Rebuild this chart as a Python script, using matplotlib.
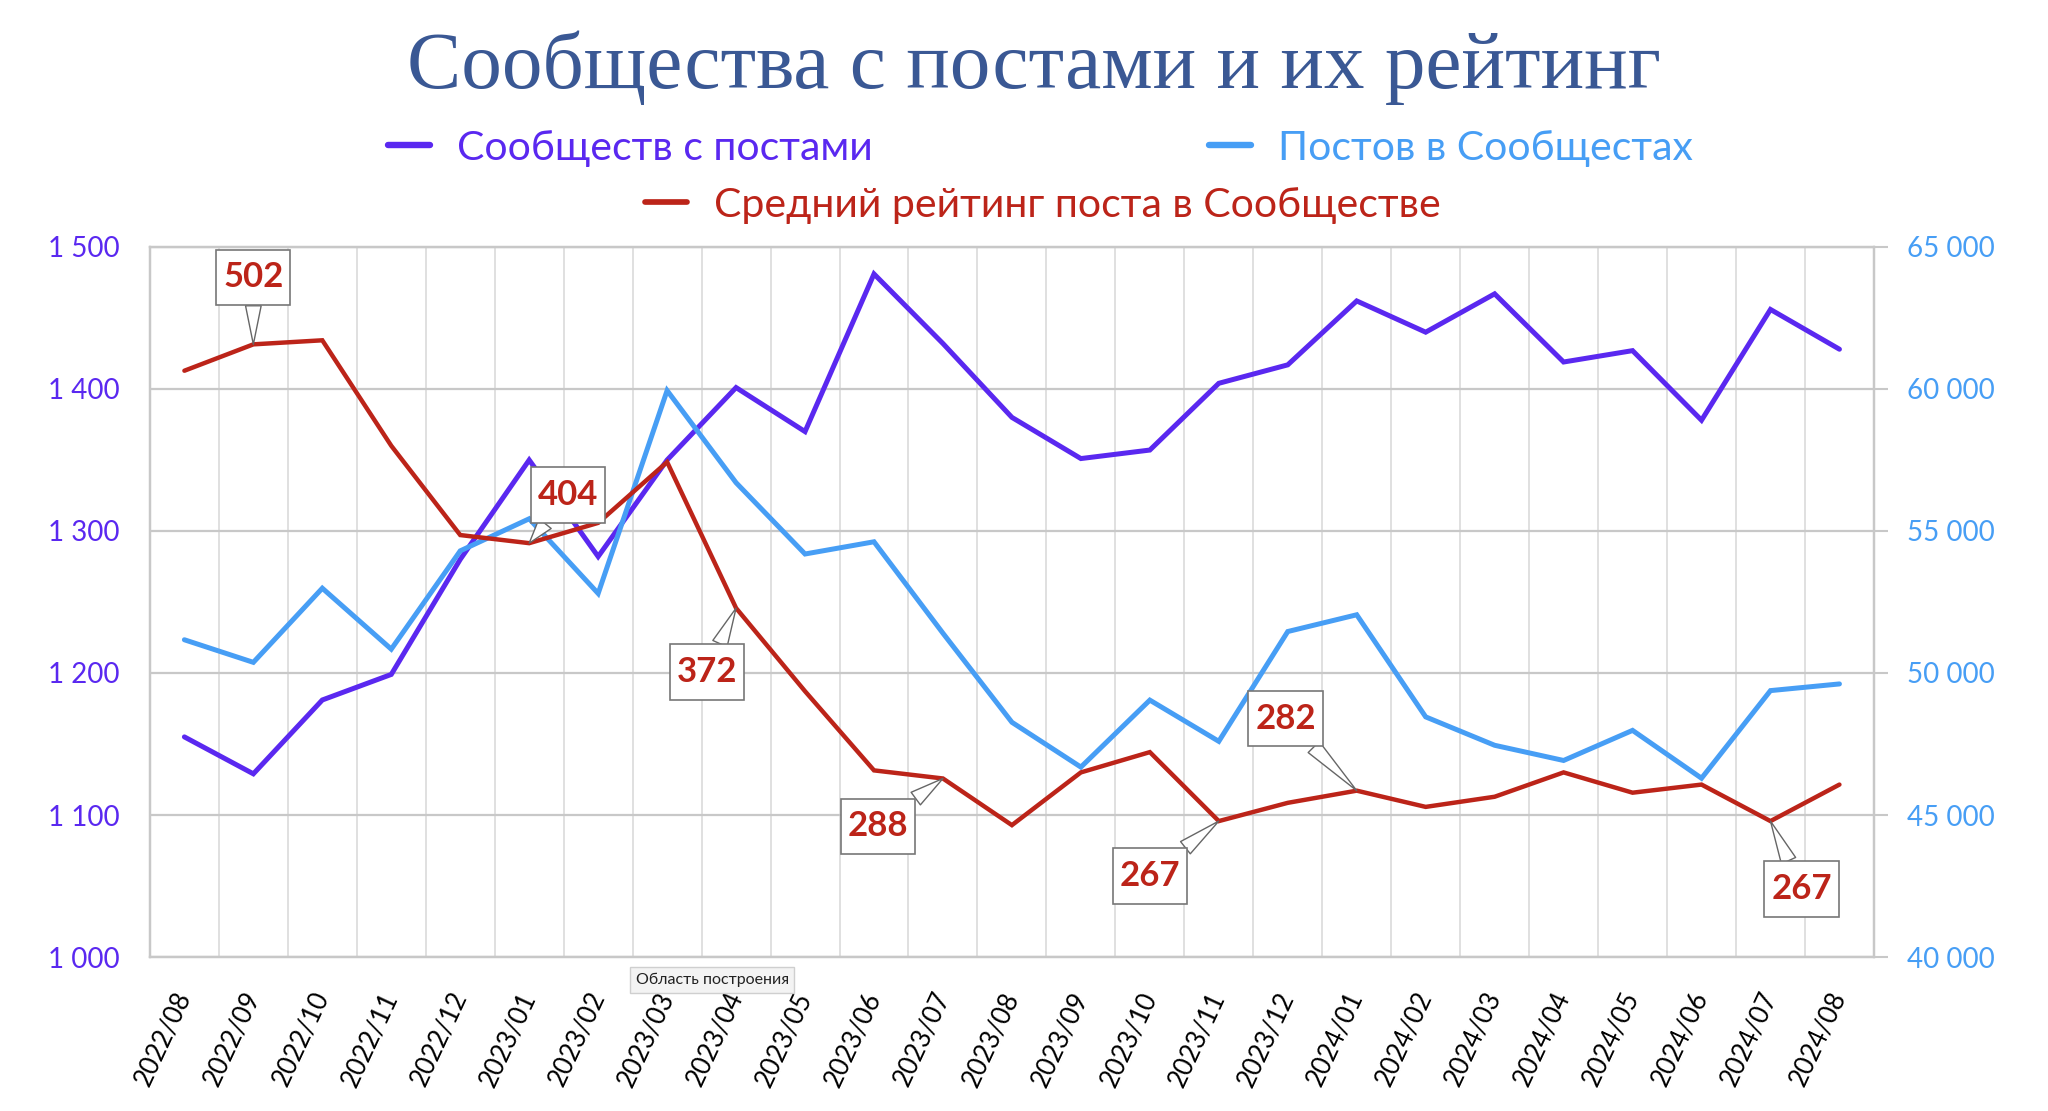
import matplotlib
matplotlib.use('Agg')
import matplotlib.pyplot as plt
import numpy as np
from matplotlib.ticker import FuncFormatter, FixedLocator
from matplotlib.lines import Line2D
from matplotlib.path import Path

# ---------------- data ----------------
months = ['2022/08', '2022/09', '2022/10', '2022/11', '2022/12',
          '2023/01', '2023/02', '2023/03', '2023/04', '2023/05', '2023/06',
          '2023/07', '2023/08', '2023/09', '2023/10', '2023/11', '2023/12',
          '2024/01', '2024/02', '2024/03', '2024/04', '2024/05', '2024/06',
          '2024/07', '2024/08']

communities = [1155, 1129, 1181, 1199, 1280, 1350, 1282, 1350, 1401, 1370,
               1481, 1432, 1380, 1351, 1357, 1404, 1417, 1462, 1440, 1467,
               1419, 1427, 1378, 1456, 1428]

posts = [51170, 50375, 52985, 50840, 54300, 55430, 52800, 59945, 56700,
         54190, 54620, 51400, 48265, 46687, 49045, 47594, 51460, 52050,
         48455, 47455, 46920, 47980, 46295, 49380, 49615]

rating = [489, 502, 504, 452, 408, 404, 414, 444, 372, 331, 292, 288, 265,
          291, 301, 267, 276, 282, 274, 279, 291, 281, 285, 267, 285]

annot_idx = [1, 5, 8, 11, 15, 17, 23]

title = 'Сообщества с постами и их рейтинг'
series_names = ['Сообществ с постами', 'Постов в Сообщестах',
                'Средний рейтинг поста в Сообществе']

# ---------------- style ----------------
PURPLE = '#5A28F0'
BLUE = '#479EF5'
RED = '#BC2419'
TITLE_C = '#3A5894'
SANS = ['Lato', 'DejaVu Sans']

annot_offsets = [(0, 67), (39, 48), (-29, -64), (-65, -48), (-69, -55),
                 (-71, 72), (31, -68)]


def callout_box(x0, y0, width, height, mutation_size):
    px = 0.2 * mutation_size
    py = 0.34 * mutation_size
    return Path([(x0 - px, y0 - py), (x0 + width + px, y0 - py),
                 (x0 + width + px, y0 + height + py),
                 (x0 - px, y0 + height + py), (x0 - px, y0 - py)],
                [Path.MOVETO, Path.LINETO, Path.LINETO, Path.LINETO,
                 Path.CLOSEPOLY])


fig = plt.figure(figsize=(20.48, 11.11), dpi=100)
ax = fig.add_axes([0.0732, 0.1386, 0.8418, 0.6391])
ax2 = ax.twinx()
ax3 = ax.twinx()

x = np.arange(len(months))

l1, = ax.plot(x, communities, color=PURPLE, lw=3.6, solid_joinstyle='miter',
              solid_capstyle='round', zorder=3)
l2, = ax2.plot(x, posts, color=BLUE, lw=3.6, solid_joinstyle='miter',
               solid_capstyle='round', zorder=3)
l3, = ax3.plot(x, rating, color=RED, lw=3.2, solid_joinstyle='miter',
               solid_capstyle='round', zorder=3)

ax.set_xlim(-0.5, len(months) - 0.5)
ax.set_ylim(1000, 1500)
ax2.set_ylim(40000, 65000)
ax3.set_ylim(200, 550)

fmt = FuncFormatter(lambda v, p: f"{int(round(v)):,}".replace(",", " "))
ax.yaxis.set_major_locator(FixedLocator(np.arange(1000, 1501, 100)))
ax2.yaxis.set_major_locator(FixedLocator(np.arange(40000, 65001, 5000)))
ax.yaxis.set_major_formatter(fmt)
ax2.yaxis.set_major_formatter(fmt)

ax.set_xticks(x)
ax.set_xticklabels(months, rotation=65, ha='right', va='center',
                   rotation_mode='anchor', fontsize=18.5, family=SANS)
ax.set_xticks(np.arange(-0.5, len(months), 1), minor=True)
ax.tick_params(axis='x', which='both', length=0, pad=26)
ax.tick_params(axis='y', length=0, pad=22, labelsize=20, labelcolor=PURPLE)
for lab in ax.get_yticklabels():
    lab.set_family(SANS)
ax2.tick_params(axis='y', length=10, width=1.5, color='#C8C8C8', pad=14,
                labelsize=20, labelcolor=BLUE)
for lab in ax2.get_yticklabels():
    lab.set_family(SANS)

ax.grid(axis='y', which='major', color='#C8C8C8', lw=1.6)
ax.grid(axis='x', which='minor', color='#DDDDDD', lw=1.3)
ax.set_axisbelow(True)

for a in (ax, ax2):
    for s in a.spines.values():
        s.set_color('#C8C8C8')
        s.set_linewidth(1.6)
ax3.set_yticks([])
for s in ax3.spines.values():
    s.set_visible(False)

# annotations on the rating series
for i, (dx, dy) in zip(annot_idx, annot_offsets):
    ax3.annotate(f"{rating[i]:.0f}", xy=(x[i], rating[i]), xytext=(dx, dy),
                 textcoords='offset pixels', ha='center', va='center',
                 fontsize=25, fontweight='bold', color=RED, family=SANS,
                 bbox=dict(boxstyle=callout_box, fc='white',
                           ec='#777777', lw=1.2),
                 arrowprops=dict(arrowstyle='wedge,tail_width=0.45',
                                 fc='white', ec='#666666', lw=1.0,
                                 shrinkA=0, shrinkB=0),
                 zorder=6)

# title
fig.text(0.505, 0.921, title, ha='center', va='baseline', fontsize=58.5,
         family=['Liberation Serif', 'DejaVu Serif'], color=TITLE_C)

# legend (manual layout)
def leg_item(x0, y, color, label, lw):
    fig.add_artist(Line2D([x0, x0 + 0.0205], [y, y], transform=fig.transFigure,
                          color=color, lw=lw + 1, solid_capstyle='round'))
    fig.text(x0 + 0.0205 + 0.013, y, label, ha='left', va='center_baseline',
             fontsize=29.5, family=SANS, color=color)

leg_item(0.1895, 1 - 145 / 1111, PURPLE, series_names[0], 3.6)
leg_item(0.5905, 1 - 145 / 1111, BLUE, series_names[1], 3.6)
leg_item(0.3150, 1 - 202 / 1111, RED, series_names[2], 3.1)

# screenshot tooltip
fig.text(0.3477, 0.118, 'Область построения', ha='center', va='center',
         fontsize=11.5, family=SANS, color='#222222', zorder=10,
         bbox=dict(boxstyle='square,pad=0.35', fc='#F3F3F3', ec='#CFCFCF',
                   lw=1))

fig.savefig('out.png', dpi=100)
